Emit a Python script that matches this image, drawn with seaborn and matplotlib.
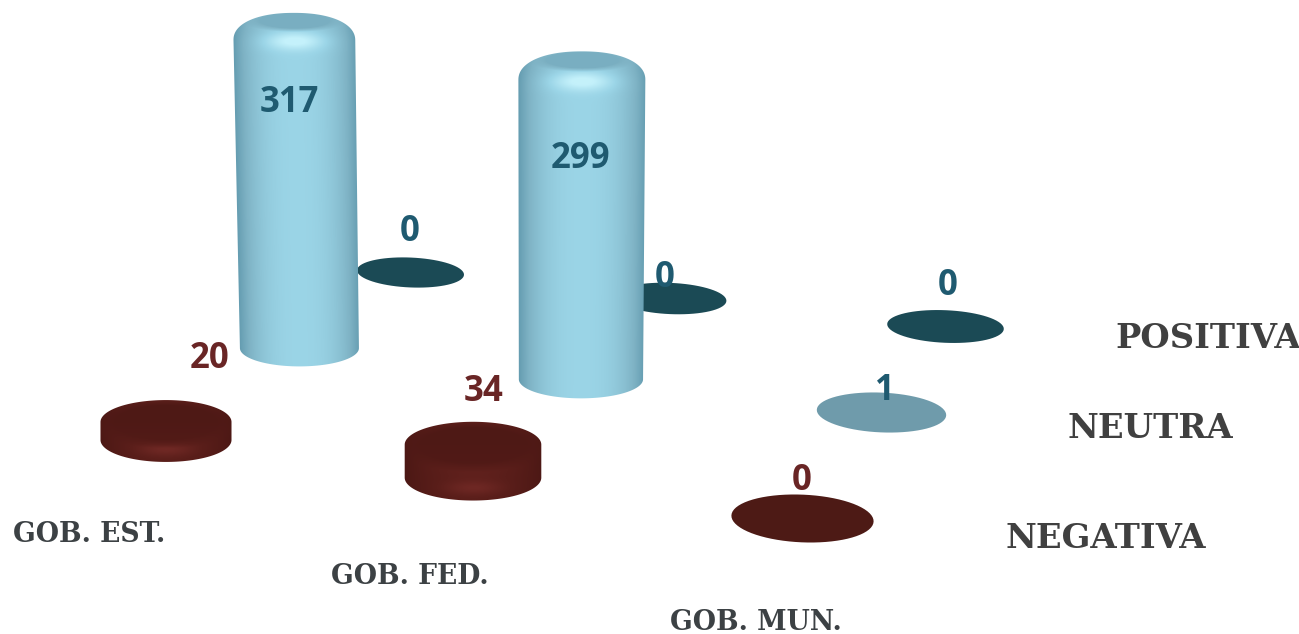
import numpy as np
import pandas as pd
import matplotlib
matplotlib.use("Agg")
import matplotlib.pyplot as plt
from matplotlib.path import Path
from matplotlib.patches import PathPatch
from matplotlib.transforms import Affine2D
import seaborn as sns

# ---------- data ----------
categories = ["GOB. EST.", "GOB. FED.", "GOB. MUN."]
series = ["NEGATIVA", "NEUTRA", "POSITIVA"]
negativa = [20, 34, 0]
neutra = [317, 299, 1]
positiva = [0, 0, 0]

# ---------- layout ----------
W, H = 1299, 634
floor_src = np.array([[0, 0], [2, 0], [0, 2], [2, 2]], float)
floor_dst = np.array([[166, 440], [802, 518], [410, 272], [945, 326]], float)
label_offsets = {  # text centre relative to the base centre
    ("GOB. EST.", "NEGATIVA"): (44, -81), ("GOB. FED.", "NEGATIVA"): (11, -86),
    ("GOB. MUN.", "NEGATIVA"): (0, -37),
    ("GOB. EST.", "NEUTRA"): (-10, -245), ("GOB. FED.", "NEUTRA"): (0, -220),
    ("GOB. MUN.", "NEUTRA"): (4, -21),
    ("GOB. EST.", "POSITIVA"): (0, -40), ("GOB. FED.", "POSITIVA"): (-5, -20),
    ("GOB. MUN.", "POSITIVA"): (3, -40),
}
cat_label_pos = [(89, 534), (410, 576), (756, 623)]
row_label_pos = [(1106, 538), (1150, 428), (1208, 338)]
colors_flat = {"NEGATIVA": "#4d1a15", "NEUTRA": "#6f9bab", "POSITIVA": "#1b4a55"}
text_colors = {"NEGATIVA": "#692525", "NEUTRA": "#1f5a70", "POSITIVA": "#1f5a70"}
lean_by_category = [-5.5, 1.0, 0.0]


def homography(src, dst):
    A = []
    for (u, v), (x, y) in zip(src, dst):
        A.append([u, v, 1, 0, 0, 0, -u * x, -v * x, -x])
        A.append([0, 0, 0, u, v, 1, -u * y, -v * y, -y])
    return np.linalg.svd(np.array(A))[2][-1].reshape(3, 3)


HM = homography(floor_src, floor_dst)


def project(g, s):
    p = HM @ np.array([g, s, 1.0])
    return p[0] / p[2], p[1] / p[2]


rows = []
for s, (name, vals) in enumerate(zip(series, [negativa, neutra, positiva])):
    for g, (cat, v) in enumerate(zip(categories, vals)):
        px, py = project(g, s)
        rx = 65.5 - 6.0 * s + (2.8 - 0.2 * s) * g
        ry = rx * (0.335 - 0.028 * s)
        rows.append(dict(category=cat, serie=name, value=v, g=g, s=s,
                         px=px, py=py, rx=rx, ry=ry))
df = pd.DataFrame(rows)

# ---------- drawing ----------
sns.set_theme(style="white")
fig, ax = plt.subplots(figsize=(W / 100, H / 100), dpi=100)
fig.subplots_adjust(0, 0, 1, 1)
ax.set_axis_off()

cmaps = {
    "NEUTRA": sns.blend_palette(["#4f8aa0", "#7fb3c5", "#9bd5e7", "#c4f1fb"], as_cmap=True),
    "NEGATIVA": sns.blend_palette(["#451512", "#5a1e1a", "#752b27", "#a05a50"], as_cmap=True),
}


def cylinder(row, z):
    cx_base, yb, rx_base, ry = row.px, row.py, row.rx, row.ry
    tall = row.value >= 100
    if tall:
        scale = 1.0 + 0.033 * row.g
    else:
        scale = 0.90 + 0.07 * row.g
    top_c = yb - scale * row.value
    top = top_c - ry
    dome = ry * 1.5 if tall else ry
    shoulder = top + dome
    lean = lean_by_category[row.g] if tall else 0.0
    grow = 1.5 if tall else 0.0

    def cx_at(y):
        return cx_base + lean * (yb - y) / max(yb - top, 1)

    def rx_at(y):
        return rx_base + grow * (yb - y) / max(yb - top, 1)

    # silhouette
    t = np.linspace(0, np.pi, 90)
    n = 2.2 if tall else 2.0
    ct = np.cos(t)
    bx = cx_base + rx_base * ct
    by = yb + ry * np.sin(t)
    ty = shoulder - dome * np.sin(t) ** (2 / n)
    tx = cx_at(ty) - rx_at(ty) * np.sign(ct) * np.abs(ct) ** (2 / n)
    verts = np.r_[np.c_[bx, by], np.c_[tx, ty], [[bx[0], by[0]]]]
    path = Path(verts, closed=True)
    # shading
    x0, x1 = cx_base - rx_base - 10, cx_base + rx_base + 10
    y0, y1 = top - 2, yb + ry + 2
    xs, ys = np.meshgrid(np.arange(x0, x1), np.arange(y0, y1))
    cxs = cx_at(ys)
    u = np.clip((xs - cxs) / rx_at(ys), -1, 1)
    if tall:
        side = 0.16 + 0.50 * (1 - np.abs(u) ** 2.4)
        face_c = top + ry * 0.45
        d = np.sqrt(((xs - cxs) / (rx_base * 0.74)) ** 2 + ((ys - face_c) / (ry * 0.52)) ** 2)
        face = np.clip((1.2 - d) / 0.4, 0, 1)
        glow = np.exp(-((xs - cxs) / (rx_base * 0.5)) ** 2 - ((ys - (shoulder + 1)) / (ry * 0.48)) ** 2)
        cap = np.clip((shoulder + 10 - ys) / 30, 0, 1)
        tone = side * (1 - 0.15 * cap) + 0.42 * glow
        tone = tone * (1 - face) + 0.30 * face
    else:
        d = np.sqrt(((xs - cxs) / (rx_base * 1.0)) ** 2 + ((ys - top_c) / (ry * 0.98)) ** 2)
        face = np.clip((1.2 - d) / 0.4, 0, 1)
        rim = np.clip((ys - top_c) / (yb - top_c + ry), 0, 1)
        glow = np.exp(-((xs - cxs) / (rx_base * 0.42)) ** 2 - ((ys - (yb + ry * 0.42)) / (ry * 0.30)) ** 2)
        edge = 0.12 + 0.36 * (1 - np.abs(u) ** 2) * (1 - 0.45 * rim)
        tone = edge + 0.22 * glow
        tone = tone * (1 - face) + (0.16 + 0.10 * rim) * face
    im = ax.imshow(cmaps[row.serie](np.clip(tone, 0, 1)), extent=(x0, x1, y1, y0),
                   origin="upper", aspect="auto", interpolation="bilinear", zorder=z)
    clip = PathPatch(path, transform=ax.transData, fc="none", ec="none")
    ax.add_patch(clip)
    im.set_clip_path(clip)


def disc_marker(ratio):
    theta = np.linspace(0, 2 * np.pi, 73)
    pts = np.c_[np.cos(theta), ratio * np.sin(theta)]
    return Path(Affine2D().rotate_deg(-2.5).transform(pts), closed=True)


z = 2
for name in series[::-1]:
    sub = df[df.serie == name]
    flat = sub[sub.value <= 1]
    for i in range(len(flat)):
        one = flat.iloc[[i]]
        sns.scatterplot(data=one, x="px", y="py", hue="serie", palette=colors_flat,
                        marker=disc_marker(one.ry.iloc[0] / one.rx.iloc[0]),
                        s=(2 * one.rx.iloc[0] * 0.72) ** 2,
                        linewidth=0, legend=False, ax=ax, zorder=z)
    for row in sub[sub.value > 1].itertuples():
        cylinder(row, z + 1)
    z += 2

for row in df.itertuples():
    dx, dy = label_offsets[(row.category, row.serie)]
    ax.text(row.px + dx, row.py + dy, str(row.value), ha="center", va="center",
            family="Open Sans", weight="bold", fontsize=25,
            color=text_colors[row.serie], zorder=20)

for lab, (x, y) in zip(categories, cat_label_pos):
    ax.text(x, y, lab, ha="center", va="center", family="DejaVu Serif", weight="bold",
            fontsize=19.2, color="#3c4144", zorder=20)
for lab, (x, y) in zip(series, row_label_pos):
    ax.text(x, y, lab, ha="center", va="center", family="DejaVu Serif", weight="bold",
            fontsize=24.3, color="#404040", zorder=20)

ax.set_xlim(0, W)
ax.set_ylim(H, 0)
ax.set_xlabel("")
ax.set_ylabel("")
fig.savefig("out.png", dpi=100, facecolor="white")
